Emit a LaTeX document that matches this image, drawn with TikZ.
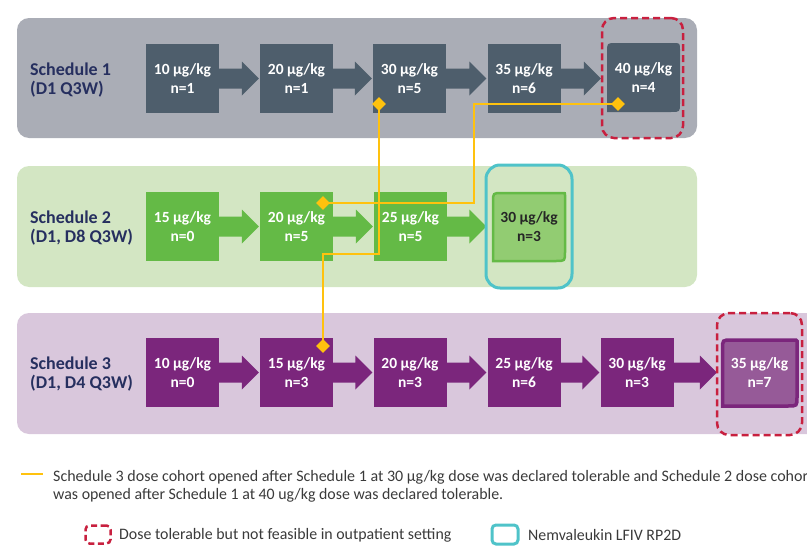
\documentclass[tikz,border=0pt]{standalone}
\usepackage{fontspec}
\usepackage{graphicx}
\setmainfont{Carlito}
\usetikzlibrary{calc,shapes.geometric}
\definecolor{panelA}{HTML}{AAADB6}
\definecolor{boxA}{HTML}{4E5E6C}
\definecolor{panelB}{HTML}{D3E6C3}
\definecolor{boxB}{HTML}{64BA46}
\definecolor{lightB}{HTML}{92CC72}
\definecolor{panelC}{HTML}{D9C7DC}
\definecolor{boxC}{HTML}{7B267C}
\definecolor{lightC}{HTML}{965A98}
\definecolor{navyC}{HTML}{262F5F}
\definecolor{redC}{HTML}{C8203F}
\definecolor{cyanC}{HTML}{4FC3C9}
\definecolor{yellowC}{HTML}{FFC20E}
\definecolor{legtext}{HTML}{3A3A3A}
\newlength\lenB
\newlength\lenA
\newcommand\legfont{\fontsize{16}{18}\selectfont}
% shape with rounded top-left / bottom-right (and optional top-right radius)
\newcommand\tlbrpath[6]{(#1,#4) -- (#1,{#2+#5}) .. controls (#1,#2) .. ({#1+#5},#2) -- ({#3-#6},#2) .. controls (#3,#2) .. (#3,{#2+#6}) -- (#3,{#4-#5}) .. controls (#3,#4) .. ({#3-#5},#4) -- cycle}
\newcommand\blockarrow[4]{%
  \fill[#1] let \p1=(#2.east), \p2=(#3.west) in
    (\x1,\y1+10pt) -- (\x2-#4-17pt,\y1+10pt) -- (\x2-#4-17pt,\y1+17pt) -- (\x2-#4,\y1)
    -- (\x2-#4-17pt,\y1-17pt) -- (\x2-#4-17pt,\y1-10pt) -- (\x1,\y1-10pt) -- cycle;}
\begin{document}
\settowidth{\lenB}{\legfont was opened after Schedule 1 at 40 ug/kg dose was declared tolerable.}%
\settowidth{\lenA}{\legfont Schedule 3 dose cohort opened after Schedule 1 at 30 µg/kg dose was declared tolerable and Schedule 2 dose cohor}%
\pgfmathsetmacro\sx{450/\lenB}%
\pgfmathsetmacro\sxa{755/\lenA}%
\begin{tikzpicture}[x=1pt,y=-1pt,
  dbox/.style={minimum width=73pt, minimum height=69pt, inner sep=0pt, align=center,
    font=\fontsize{15.5}{19}\selectfont\bfseries, text=white},
  schedlbl/.style={anchor=west, align=left, inner sep=0pt,
    font=\fontsize{18}{19}\selectfont\bfseries, text=navyC},
  ydia/.style={diamond, fill=yellowC, minimum width=14pt, minimum height=14pt, inner sep=0pt},
  yline/.style={draw=yellowC, line width=2pt},
  redbox/.style={draw=redC, line width=2.5pt, dash pattern=on 7pt off 4pt, rounded corners=12pt},
  cyanbox/.style={draw=cyanC, line width=3pt, rounded corners=14pt},
  legtxt/.style={anchor=west, inner sep=0pt, font=\legfont, text=legtext}]
\useasboundingbox (0,0) rectangle (807,546);
\clip (0,0) rectangle (807,546);

% panels
\fill[panelA, rounded corners=12pt] (17,18) rectangle (697,138);
\fill[panelB, rounded corners=12pt] (17,166) rectangle (697,287);
\fill[panelC, rounded corners=12pt] (17,313) rectangle (840,434);

% schedule labels
\node[schedlbl] (s1) at (30,80) {Schedule 1\\(D1 Q3W)};
\node[schedlbl] (s2) at (30,228) {Schedule 2\\(D1, D8 Q3W)};
\node[schedlbl] (s3) at (30,374) {Schedule 3\\(D1, D4 Q3W)};

% row 1
\node[dbox, fill=boxA] (a1) at (182.5,78.5) {10 µg/kg\\n=1};
\node[dbox, fill=boxA] (a2) at (296.5,78.5) {20 µg/kg\\n=1};
\node[dbox, fill=boxA] (a3) at (409.5,78.5) {30 µg/kg\\n=5};
\node[dbox, fill=boxA] (a4) at (524,78.5) {35 µg/kg\\n=6};
\fill[boxA] \tlbrpath{607}{43}{680}{112}{9}{7};
\node[dbox] (a5) at (643.5,77.5) {40 µg/kg\\n=4};
\blockarrow{boxA}{a1}{a2}{1pt}
\blockarrow{boxA}{a2}{a3}{1pt}
\blockarrow{boxA}{a3}{a4}{1pt}
\blockarrow{boxA}{a4}{a5}{6pt}

% row 2
\node[dbox, fill=boxB] (b1) at (182.5,226.5) {15 µg/kg\\n=0};
\node[dbox, fill=boxB] (b2) at (296.5,226.5) {20 µg/kg\\n=5};
\node[dbox, fill=boxB] (b3) at (410.5,226.5) {25 µg/kg\\n=5};
\filldraw[fill=lightB, draw=boxB, line width=2.5pt] \tlbrpath{493}{193}{565}{261}{9}{2};
\node[dbox, text=black!85] (b4) at (529,226.5) {30 µg/kg\\n=3};
\blockarrow{boxB}{b1}{b2}{1pt}
\blockarrow{boxB}{b2}{b3}{1pt}
\blockarrow{boxB}{b3}{b4}{6pt}

% row 3
\node[dbox, fill=boxC] (c1) at (182.5,372.5) {10 µg/kg\\n=0};
\node[dbox, fill=boxC] (c2) at (296.5,372.5) {15 µg/kg\\n=3};
\node[dbox, fill=boxC] (c3) at (410,372.5) {20 µg/kg\\n=3};
\node[dbox, fill=boxC] (c4) at (524,372.5) {25 µg/kg\\n=6};
\node[dbox, fill=boxC] (c5) at (637,372.5) {30 µg/kg\\n=3};
\filldraw[fill=lightC, draw=boxC, line width=3.5pt] \tlbrpath{722.5}{340}{797}{406}{9}{1};
\node[dbox] (c6) at (759.5,372.5) {35 µg/kg\\n=7};
\blockarrow{boxC}{c1}{c2}{1pt}
\blockarrow{boxC}{c2}{c3}{1pt}
\blockarrow{boxC}{c3}{c4}{1pt}
\blockarrow{boxC}{c4}{c5}{1pt}
\blockarrow{boxC}{c5}{c6}{6pt}

% highlight frames
\node[redbox, minimum width=81pt, minimum height=120pt] (r1) at (642.5,78) {};
\node[redbox, minimum width=85pt, minimum height=122pt] (r2) at (759.5,374) {};
\node[cyanbox, minimum width=86pt, minimum height=123pt] (cy) at (529,226.5) {};

% yellow connectors
\coordinate (d1) at (379,104);
\coordinate (d2) at (323,203);
\coordinate (d3) at (323,346);
\coordinate (d5) at (618,104);
\coordinate (j1) at (323,254);
\coordinate (j2) at (474,203);
\draw[yline] (d1) |- (j1) -- (d3);
\draw[yline] (d5) -| (j2) -- (d2);
\node[ydia] (y1) at (d1) {};
\node[ydia] (y2) at (d2) {};
\node[ydia] (y3) at (d3) {};
\node[ydia] (y5) at (d5) {};

% legend
\coordinate (la) at (21,474);
\coordinate (lb) at (43,474);
\draw[yline, line width=2.5pt] (la) -- (lb);
\node[legtxt] (t1) at (53,477) {\scalebox{\sxa}[1]{Schedule 3 dose cohort opened after Schedule 1 at 30 µg/kg dose was declared tolerable and Schedule 2 dose cohort}};
\node[legtxt] (t2) at (53,495) {\scalebox{\sx}[1]{was opened after Schedule 1 at 40 ug/kg dose was declared tolerable.}};
\node[draw=redC, line width=2.5pt, dash pattern=on 6pt off 3.5pt, rounded corners=4pt,
  minimum width=25pt, minimum height=18pt, inner sep=0pt] (lr) at (98,534.5) {};
\node[legtxt] (t3) at (119,535) {\scalebox{\sx}[1]{Dose tolerable but not feasible in outpatient setting}};
\node[draw=cyanC, line width=3pt, rounded corners=4pt,
  minimum width=26pt, minimum height=19pt, inner sep=0pt] (lc) at (505,534.5) {};
\node[legtxt] (t4) at (528,535) {\scalebox{\sx}[1]{Nemvaleukin LFIV RP2D}};
\end{tikzpicture}
\end{document}
